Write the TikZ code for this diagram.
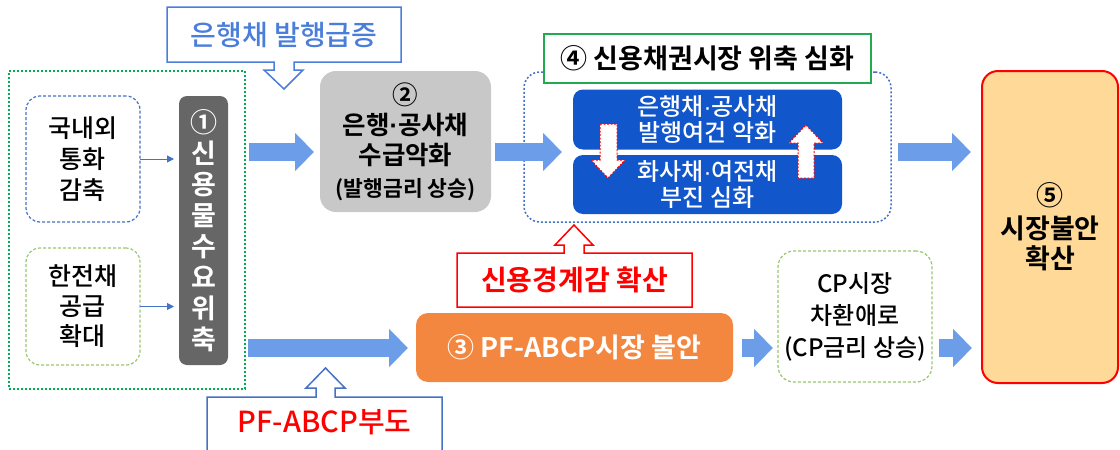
\documentclass[tikz,border=0pt]{standalone}
\usepackage{fontspec}
\setmainfont{Noto Sans CJK KR}[UprightFont=* Medium, BoldFont=* Bold]
\newfontfamily\dotfont{Liberation Sans}
\usetikzlibrary{arrows.meta}
\definecolor{arrowblue}{RGB}{108,157,232}
\definecolor{lineblue}{RGB}{68,114,196}
\definecolor{calloutblue}{RGB}{74,126,218}
\definecolor{darkgreen}{RGB}{0,176,80}
\definecolor{lightgreen}{RGB}{150,200,110}
\definecolor{titlegreen}{RGB}{34,170,80}
\definecolor{boxgray}{RGB}{200,200,200}
\definecolor{darkgray}{RGB}{102,102,102}
\definecolor{boxblue}{RGB}{18,86,204}
\definecolor{boxorange}{RGB}{243,135,64}
\definecolor{boxpeach}{RGB}{255,217,152}
\definecolor{pure red}{RGB}{255,0,0}
\newcommand\myfs[2]{\fontsize{#1}{#2}\selectfont}
\newcommand\mdot{{\dotfont ·}}
\begin{document}
\begin{tikzpicture}[x=1pt,y=-1pt,
  every node/.style={inner sep=0pt, outer sep=0pt, align=center},
  bigarrow/.style={draw=arrowblue, line width=18pt, -{Triangle[length=19pt 0 0,width=37pt 0 0]}},
  smallarrow/.style={draw=lineblue, line width=1pt, -{Triangle[length=7pt 0 0,width=7pt 0 0]}},
  dotbox/.style={dash pattern=on 2pt off 2pt, line width=1.5pt},
  dashbox/.style={dash pattern=on 3pt off 2pt, line width=1.2pt},
  callout/.style={fill=white, line width=1.5pt, line join=miter},
  redarrow/.style={fill=white, draw=pure red, line width=1pt, dash pattern=on 2pt off 1.5pt}
]
\useasboundingbox (0,0) rectangle (1120,450);

% left group
\node[draw=darkgreen, dotbox, minimum width=236pt, minimum height=318pt] (outer) at (127,230) {};
\node[draw=lineblue, dashbox, rounded corners=14pt, minimum width=114pt, minimum height=126pt,
      font=\myfs{25}{31}] (b1) at (83,159) {국내외\\통화\\감축};
\node[draw=lightgreen, dashbox, rounded corners=14pt, minimum width=114pt, minimum height=117pt,
      font=\myfs{25}{30}] (b2) at (83,306.5) {한전채\\공급\\확대};
\node[fill=darkgray, rounded corners=8pt, minimum width=49pt, minimum height=269pt,
      text=white, font=\myfs{27}{31}\bfseries] (n1) at (203.5,230.5) {①\\신\\용\\물\\수\\요\\위\\축};
\draw[smallarrow, shorten >=5pt] (b1.east) -- (n1.west |- b1.east);
\draw[smallarrow, shorten >=5pt] (b2.east) -- (n1.west |- b2.east);

% box 2
\node[fill=boxgray, rounded corners=16pt, minimum width=171pt, minimum height=141pt,
      font=\myfs{25.5}{30}\bfseries] (n2) at (405.5,141.5)
      {②\\은행{\bfseries\mdot}공사채\\수급악화\\[2pt]{\myfs{21.5}{24}\bfseries (발행금리 상승)}};

% top callout
\draw[draw=calloutblue, callout] (167,7) -- (401,7) -- (401,62) -- (294,62) -- (294,70) -- (303,70)
  -- (284,89) -- (264,70) -- (274,70) -- (274,62) -- (167,62) -- cycle;
\node[text=calloutblue, font=\myfs{28}{30}] (c1) at (284,35) {은행채 발행급증};

% container 4
\node[draw=lineblue, dotbox, rounded corners=16pt, minimum width=367pt, minimum height=150pt] (cont4) at (707.5,147) {};
\node[draw=titlegreen, fill=white, line width=2pt, minimum width=327pt, minimum height=49pt,
      font=\myfs{27}{30}\bfseries] (title4) at (707.5,58.5) {④ 신용채권시장 위축 심화};
\node[fill=boxblue, rounded corners=10pt, minimum width=269pt, minimum height=60pt,
      text=white, font=\myfs{24}{26}] (b4a) at (707.5,119.5) {은행채\mdot 공사채\\발행여건 악화};
\node[fill=boxblue, rounded corners=10pt, minimum width=269pt, minimum height=59pt,
      text=white, font=\myfs{24}{26}] (b4b) at (707.5,184.5) {화사채\mdot 여전채\\부진 심화};
\draw[redarrow] (600,124) -- (617,124) -- (617,160) -- (625,160) -- (608,178) -- (591,160) -- (600,160) -- cycle;
\draw[redarrow] (806,125) -- (823,143) -- (814,143) -- (814,178) -- (798,178) -- (798,143) -- (789,143) -- cycle;

% box 5
\node[draw=pure red, fill=boxpeach, line width=2pt, rounded corners=16pt, minimum width=136pt, minimum height=312pt,
      font=\myfs{27}{30}\bfseries] (n5) at (1050,227) {⑤\\[3pt]시장불안\\확산};

% box 3 and red callout
\draw[draw=pure red, callout] (457,307) -- (457,253) -- (564,253) -- (564,245) -- (555,245) -- (574,225)
  -- (593,245) -- (584,245) -- (584,253) -- (692,253) -- (692,307) -- cycle;
\node[text=pure red, font=\myfs{28}{30}\bfseries] (c2) at (574.5,280) {신용경계감 확산};
\node[fill=boxorange, rounded corners=12pt, minimum width=317pt, minimum height=69pt,
      text=white, font=\myfs{27}{30}\bfseries] (n3) at (574.5,347.5) {③ PF-ABCP시장 불안};

% CP box
\node[draw=lightgreen, dashbox, rounded corners=16pt, minimum width=154pt, minimum height=131pt,
      font=\myfs{24}{32}] (cp) at (855,316.5) {CP시장\\차환애로\\(CP금리 상승)};

% bottom callout
\draw[draw=lineblue, callout] (207,452) -- (207,397) -- (316,397) -- (316,388) -- (306,388) -- (325.5,368)
  -- (345,388) -- (335,388) -- (335,397) -- (442,397) -- (442,452);
\node[text=pure red, font=\myfs{29}{32}] (c3) at (324.5,422) {PF-ABCP부도};

% big arrows
\coordinate (yA) at (0,152);
\coordinate (yB) at (0,348);
\draw[bigarrow, shorten <=4pt, shorten >=6pt] (outer.east |- yA) -- (n2.west |- yA);
\draw[bigarrow, shorten <=3pt, shorten >=8pt] (outer.east |- yB) -- (n3.west |- yB);
\draw[bigarrow, shorten <=4pt, shorten >=11pt] (n2.east |- yA) -- (b4a.west |- yA);
\draw[bigarrow, shorten <=7pt, shorten >=11pt] (cont4.east |- yA) -- (n5.west |- yA);
\draw[bigarrow, shorten <=9pt, shorten >=5pt] (n3.east |- yB) -- (cp.west |- yB);
\draw[bigarrow, shorten <=7pt, shorten >=10pt] (cp.east |- yB) -- (n5.west |- yB);
\end{tikzpicture}
\end{document}
